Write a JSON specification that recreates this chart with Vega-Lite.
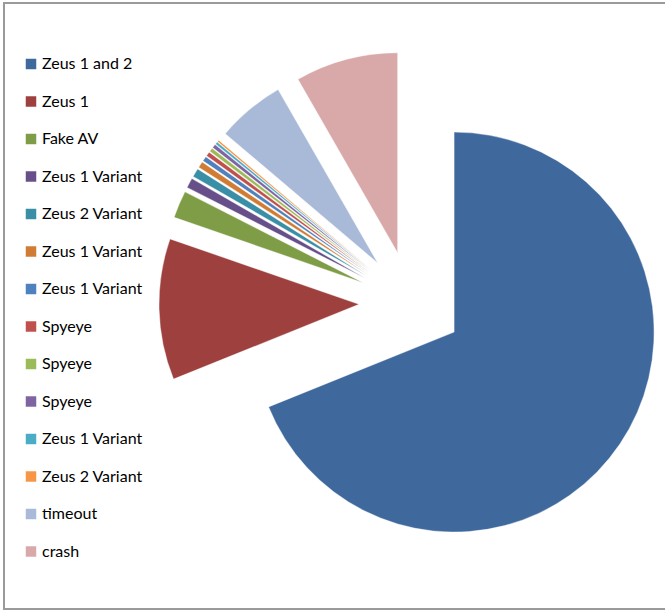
{
  "$schema": "https://vega.github.io/schema/vega-lite/v6.json",
  "width": 700,
  "height": 606,
  "autosize": {"type": "none"},
  "padding": {"left": 4, "top": 3, "right": 0, "bottom": 2},
  "background": "white",
  "config": {
    "view": {"stroke": "#9a9a9a", "strokeWidth": 2},
    "font": "Lato"
  },
  "data": {
    "values": [
      {"order": 1, "key": "Zeus 1 and 2#1", "value": 68.9},
      {"order": 2, "key": "Zeus 1#2", "value": 11.4},
      {"order": 3, "key": "Fake AV#3", "value": 2.2},
      {"order": 4, "key": "Zeus 1 Variant#4", "value": 0.8},
      {"order": 5, "key": "Zeus 2 Variant#5", "value": 0.7},
      {"order": 6, "key": "Zeus 1 Variant#6", "value": 0.5},
      {"order": 7, "key": "Zeus 1 Variant#7", "value": 0.4},
      {"order": 8, "key": "Spyeye#8", "value": 0.35},
      {"order": 9, "key": "Spyeye#9", "value": 0.3},
      {"order": 10, "key": "Spyeye#10", "value": 0.3},
      {"order": 11, "key": "Zeus 1 Variant#11", "value": 0.2},
      {"order": 12, "key": "Zeus 2 Variant#12", "value": 0.15},
      {"order": 13, "key": "timeout#13", "value": 5.5},
      {"order": 14, "key": "crash#14", "value": 8.3}
    ]
  },
  "transform": [
    {"window": [{"op": "sum", "field": "value", "as": "cum"}], "sort": [{"field": "order"}], "frame": [null, 0]},
    {"joinaggregate": [{"op": "sum", "field": "value", "as": "total"}]},
    {"calculate": "datum.cum - datum.value", "as": "t0"},
    {"calculate": "(datum.cum - datum.value / 2) / datum.total * 2 * PI", "as": "mid"},
    {"calculate": "sin(datum.mid)", "as": "ex"},
    {"calculate": "-cos(datum.mid)", "as": "ey"}
  ],
  "mark": {"type": "arc", "outerRadius": 200, "stroke": "white", "strokeWidth": 0.4},
  "encoding": {
    "theta": {"field": "t0", "type": "quantitative", "scale": {"domain": [0, 100], "range": [0, 6.283185307179586]}},
    "theta2": {"field": "cum"},
    "x": {"field": "ex", "type": "quantitative", "scale": {"domain": [-1, 1], "range": [355, 459]}, "axis": null},
    "y": {"field": "ey", "type": "quantitative", "scale": {"domain": [-1, 1], "range": [248, 352]}, "axis": null},
    "color": {
      "field": "key",
      "type": "nominal",
      "scale": {
        "domain": ["Zeus 1 and 2#1", "Zeus 1#2", "Fake AV#3", "Zeus 1 Variant#4", "Zeus 2 Variant#5", "Zeus 1 Variant#6", "Zeus 1 Variant#7", "Spyeye#8", "Spyeye#9", "Spyeye#10", "Zeus 1 Variant#11", "Zeus 2 Variant#12", "timeout#13", "crash#14"],
        "range": ["#3F699D", "#9E413E", "#7F9D47", "#674F8A", "#3A8FA6", "#D07C35", "#4F81BD", "#C0504D", "#9BBB59", "#8064A2", "#4BACC6", "#F79646", "#A9B9D8", "#D9A9A9"]
      },
      "legend": {
        "title": null,
        "orient": "none",
        "legendX": 19,
        "legendY": 53,
        "padding": 0,
        "symbolType": "square",
        "symbolSize": 110,
        "symbolStrokeWidth": 0,
        "labelFont": "Lato",
        "labelFontSize": 16,
        "labelColor": "#000000",
        "labelOffset": 3,
        "rowPadding": 21.5,
        "labelExpr": "split(datum.label, '#')[0]",
        "labelLimit": 300
      }
    },
    "order": {"field": "order", "type": "quantitative"}
  }
}
